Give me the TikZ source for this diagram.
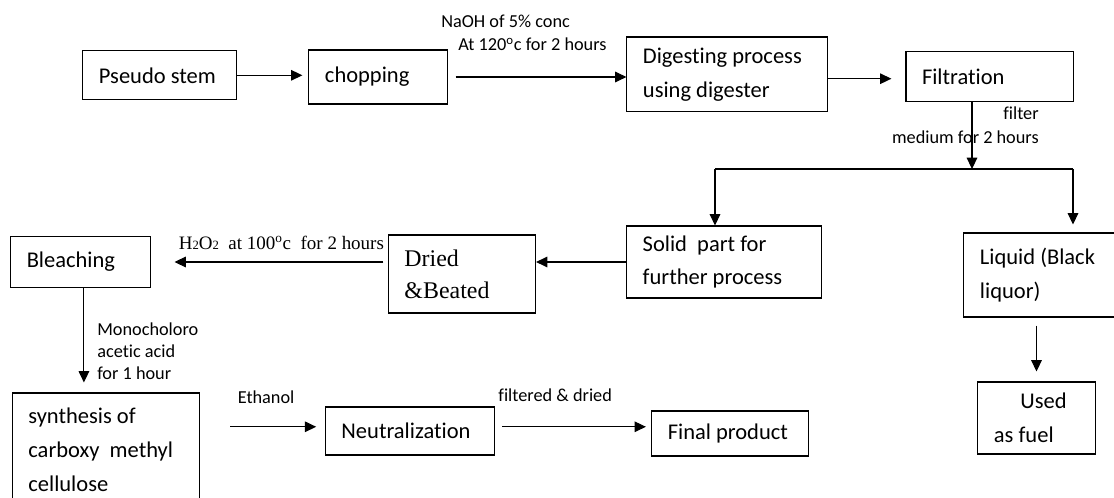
\documentclass[tikz,border=0pt]{standalone}
\usepackage{fontspec}
\setmainfont{Carlito}[Ligatures=NoCommon]
\newfontfamily\timesfont{Liberation Serif}
\usetikzlibrary{arrows.meta}

\tikzset{
  box/.style={draw, line width=0.75pt, align=flush left, inner xsep=11.4pt, inner ysep=0pt,
    font=\fontsize{16}{24}\selectfont},
  lbl/.style={inner sep=0pt, align=left, font=\fontsize{13}{17}\selectfont},
  flow/.style={line width=0.75pt, -{Triangle[length=8pt,width=7.5pt]}}
}

\begin{document}
\begin{tikzpicture}[x=0.025cm, y=-0.025cm]
  \useasboundingbox (0,0) rectangle (1114,498);
  \clip (0,0) rectangle (1114,498);
  \draw
    (159.7,75.3) node[box, text width=86.4pt, minimum height=35pt] (stem) {Pseudo stem}
    (378,77) node[box, text width=75.4pt, minimum height=38.4pt] (chop) {chopping}
    (727,74.5) node[box, text width=119.5pt, minimum height=53.3pt] (digest) {Digesting process\\using digester}
    (989.5,76.5) node[box, text width=96pt, minimum height=34.9pt] (filt) {Filtration}
    (724,262) node[box, text width=115.6pt, minimum height=51.2pt] (solid) {Solid~~part for\\further process}
    (1059,275) node[box, text width=112.4pt, minimum height=59.7pt] (liquid) {Liquid (Black\\liquor)}
    (1036.5,418) node[box, text width=60.5pt, minimum height=51.2pt] (fuel) {\hspace*{18.8pt}Used\\as fuel}
    (462,274) node[box, text width=81.8pt, minimum height=55.5pt,
      font=\timesfont\fontsize{17}{23}\selectfont] (dried) {Dried\\\&Beated}
    (80.4,262) node[box, text width=76.3pt, minimum height=35.6pt] (bleach) {Bleaching}
    (105.75,450) node[box, text width=110pt, minimum height=81.1pt] (cmc) {synthesis of\\carboxy~~methyl\\cellulose}
    (410,431) node[box, text width=97.5pt, minimum height=34.1pt] (neut) {Neutralization}
    (730,433.5) node[box, text width=88.5pt, minimum height=32pt] (final) {Final product};
  \draw
    (441,21) node[lbl, anchor=west] (naoh) {NaOH of 5\% conc}
    (458,44) node[lbl, anchor=west] (temp) {At 120\textsuperscript{o}c for 2 hours}
    (1039,125) node[lbl, anchor=east, align=right] (medium) {filter\\medium for 2 hours}
    (178.6,243) node[lbl, anchor=west, font=\timesfont\fontsize{13.5}{16}\selectfont] (peroxide)
      {H{\small 2}O{\small 2}\ \ at 100\textsuperscript{o}c\ \ for 2 hours}
    (97,351) node[lbl, anchor=west, font=\fontsize{13}{15.6}\selectfont] (acid) {Monocholoro\\acetic acid\\for 1 hour}
    (237.5,397) node[lbl, anchor=west] (ethanol) {Ethanol}
    (498.2,395) node[lbl, anchor=west] (washed) {filtered \& dried};
  \coordinate (split) at (972,169);
  \coordinate (splitl) at (715,169);
  \coordinate (splitr) at (1073,169);
  \coordinate (digout) at ([yshift=-3pt]digest.east);
  \coordinate (bleachout) at ([xshift=2.5pt]bleach.south);
  \coordinate (neutin) at ([yshift=3pt]neut.west);
  \coordinate (neutout) at ([yshift=3pt]neut.east);
  \draw[line width=0.75pt] (splitl) -- (splitr);
  \begin{scope}[flow]
    \draw[shorten >=4.3pt] (stem.east) -- (stem.east -| chop.west);
    \draw[shorten <=5.7pt] (chop.east) -- (chop.east -| digest.west);
    \draw[shorten >=10pt] (digout) -- (digout -| filt.west);
    \draw (split |- filt.south) -- (split);
    \draw (splitl) -- (splitl |- solid.north);
    \draw[shorten >=5.7pt] (splitr) -- (splitr |- liquid.north);
    \draw[shorten <=5.7pt, shorten >=7.1pt] (liquid.south -| fuel.north) -- (fuel.north);
    \draw (solid.west) -- (solid.west -| dried.east);
    \draw[shorten <=3.3pt, shorten >=17pt] (dried.west |- bleach.east) -- (bleach.east);
    \draw[shorten >=7.1pt] (bleachout) -- (bleachout |- cmc.north);
    \draw[shorten <=21.8pt, shorten >=6.2pt] (cmc.east |- neutin) -- (neutin);
    \draw[shorten <=5.1pt, shorten >=3.8pt] (neutout) -- (neutout -| final.west);
  \end{scope}
\end{tikzpicture}
\end{document}
